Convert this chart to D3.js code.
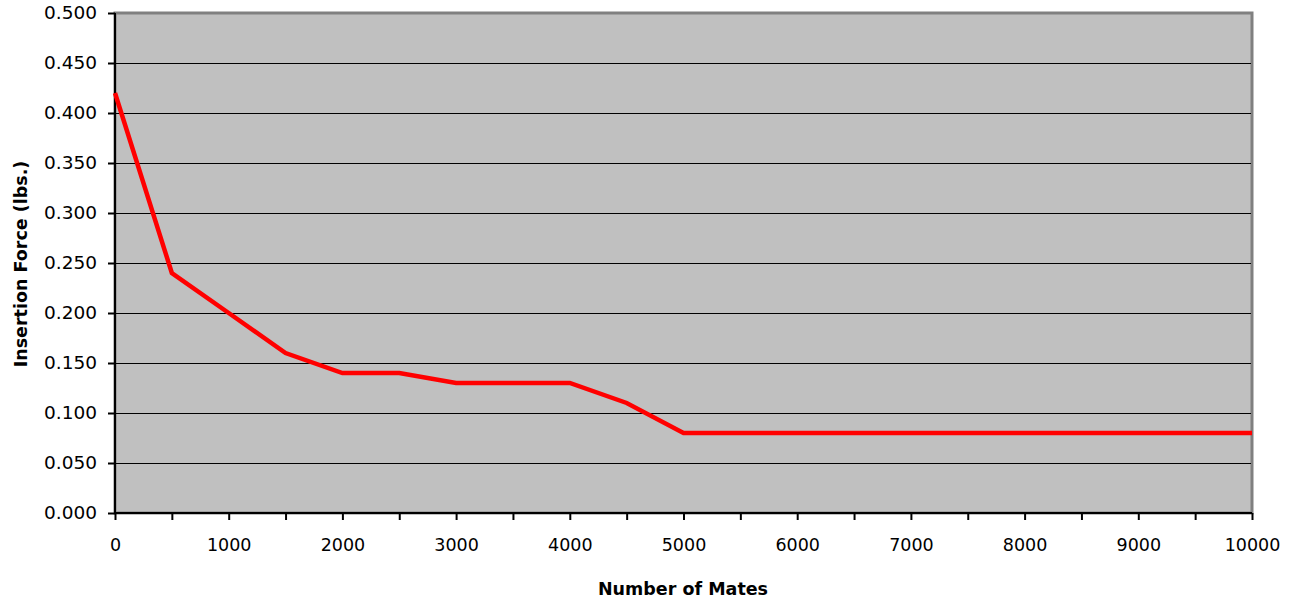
<!DOCTYPE html>
<html><head><meta charset="utf-8">
<script src="https://cdn.jsdelivr.net/npm/d3@7"></script>
<style>
html,body{margin:0;padding:0;background:#fff;}
text{font-family:"DejaVu Sans",Verdana,sans-serif;fill:#000;}
</style></head>
<body>
<svg id="chart" width="1296" height="604"></svg>
<script>
const mates = [0,500,1000,1500,2000,2500,3000,3500,4000,4500,5000,5500,6000,6500,7000,7500,8000,8500,9000,9500,10000];
const force = [0.42,0.24,0.20,0.16,0.14,0.14,0.13,0.13,0.13,0.11,0.08,0.08,0.08,0.08,0.08,0.08,0.08,0.08,0.08,0.08,0.08];
const xTickLabels = [0,1000,2000,3000,4000,5000,6000,7000,8000,9000,10000];
const xMinorTicks = [0,500,1000,1500,2000,2500,3000,3500,4000,4500,5000,5500,6000,6500,7000,7500,8000,8500,9000,9500,10000];
const yTicks = [0,0.05,0.10,0.15,0.20,0.25,0.30,0.35,0.40,0.45,0.50];
const xTitle = "Number of Mates";
const yTitle = "Insertion Force (lbs.)";

const svg = d3.select("#chart");
const L = 115, R = 1252, T = 13, B = 513;
const x = d3.scaleLinear().domain([0,10000]).range([L,R]);
const y = d3.scaleLinear().domain([0,0.5]).range([B,T]);

svg.append("rect").attr("x",L).attr("y",T).attr("width",R-L).attr("height",B-T)
  .attr("fill","#c0c0c0").attr("stroke","#808080").attr("stroke-width",3);

svg.append("g").selectAll("line").data(yTicks.filter(d=>d>0 && d<0.5)).join("line")
  .attr("x1",L).attr("x2",R-1).attr("y1",d=>Math.round(y(d))+0.5).attr("y2",d=>Math.round(y(d))+0.5)
  .attr("stroke","#000").attr("stroke-width",1);

const yAxis = d3.axisLeft(y).tickValues(yTicks).tickFormat(d3.format(".3f")).tickSize(7).tickPadding(11);
const gy = svg.append("g").attr("transform",`translate(${L},0)`).call(yAxis);
gy.select(".domain").attr("stroke","#000").attr("stroke-width",2).attr("d",`M0,${T}V${B+1}`);
gy.selectAll(".tick line").attr("stroke","#000").attr("stroke-width",2);
gy.selectAll("text").attr("font-size",18.5).attr("font-family","DejaVu Sans");

const xAxisMinor = d3.axisBottom(x).tickValues(xMinorTicks).tickFormat("").tickSize(7);
const gxm = svg.append("g").attr("transform",`translate(0,${B})`).call(xAxisMinor);
gxm.select(".domain").attr("stroke","#000").attr("stroke-width",2).attr("d",`M${L-1},0H${R}`);
gxm.selectAll(".tick line").attr("stroke","#000").attr("stroke-width",2);

const xAxis = d3.axisBottom(x).tickValues(xTickLabels).tickFormat(d3.format("d")).tickSize(0).tickPadding(26);
const gx = svg.append("g").attr("transform",`translate(0,${B})`).call(xAxis);
gx.select(".domain").remove();
gx.selectAll("text").attr("font-size",17.5).attr("font-family","DejaVu Sans");

const line = d3.line().x((d,i)=>x(mates[i])).y(d=>y(d));
svg.append("path").datum(force).attr("d",line)
  .attr("fill","none").attr("stroke","#ff0000").attr("stroke-width",4.5).attr("stroke-linejoin","miter");

svg.append("text").attr("x",683).attr("y",595).attr("text-anchor","middle")
  .attr("font-size",17.5).attr("font-weight","bold").text(xTitle);
svg.append("text").attr("transform","translate(27,264) rotate(-90)").attr("text-anchor","middle")
  .attr("font-size",17.5).attr("font-weight","bold").text(yTitle);
</script>
</body></html>
